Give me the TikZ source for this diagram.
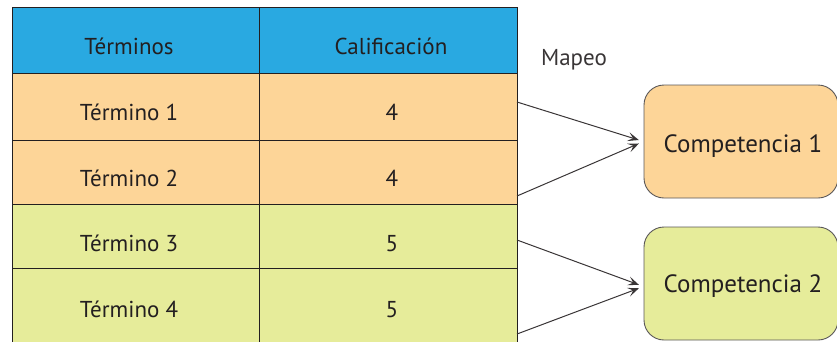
\documentclass[tikz,border=0pt]{standalone}
\usepackage{fontspec}
\setmainfont{PT Sans}
\usetikzlibrary{arrows.meta}
\definecolor{hdr}{HTML}{29A9E1}
\definecolor{org}{HTML}{FDD598}
\definecolor{grn}{HTML}{E6EC9A}
\definecolor{ink}{HTML}{231F20}
\begin{document}
\begin{tikzpicture}[x=1pt,y=-1pt,
  cell/.style={draw=ink, line width=0.9pt, inner sep=0pt},
  celltext/.style={anchor=base, inner sep=0pt, font=\fontsize{23}{26}\selectfont, text=ink},
  compbox/.style={draw=ink!75, line width=0.9pt, rounded corners=20pt, inner sep=0pt, minimum width=194pt, minimum height=113pt},
  comptext/.style={anchor=base, inner sep=0pt, font=\fontsize{25}{28}\selectfont, text=ink},
  maparrow/.style={draw=ink!90, line width=1pt, -{Stealth[length=11pt,width=9pt,inset=5pt]}}]
\useasboundingbox (0,0) rectangle (837,341);
% header cells
\node[cell, fill=hdr, minimum width=247pt, minimum height=66pt] (h1) at (135.5,40) {};
\node[cell, fill=hdr, minimum width=258pt, minimum height=66pt] (h2) at (388,40) {};
% body cells
\node[cell, fill=org, minimum width=247pt, minimum height=67pt] (t1) at (135.5,106.5) {};
\node[cell, fill=org, minimum width=258pt, minimum height=67pt] (c1) at (388,106.5) {};
\node[cell, fill=org, minimum width=247pt, minimum height=64pt] (t2) at (135.5,172) {};
\node[cell, fill=org, minimum width=258pt, minimum height=64pt] (c2) at (388,172) {};
\node[cell, fill=grn, minimum width=247pt, minimum height=64pt] (t3) at (135.5,236) {};
\node[cell, fill=grn, minimum width=258pt, minimum height=64pt] (c3) at (388,236) {};
\node[cell, fill=grn, minimum width=247pt, minimum height=80pt] (t4) at (135.5,308) {};
\node[cell, fill=grn, minimum width=258pt, minimum height=80pt] (c4) at (388,308) {};
% cell texts
\node[celltext] (h1t) at (129,54) {Términos};
\node[celltext] (h2t) at (391,54) {Calificación};
\node[celltext] (t1t) at (129,120) {Término 1};
\node[celltext] (c1t) at (392,120) {4};
\node[celltext] (t2t) at (129,186) {Término 2};
\node[celltext] (c2t) at (392,186) {4};
\node[celltext] (t3t) at (129,251) {Término 3};
\node[celltext] (c3t) at (392,251) {5};
\node[celltext] (t4t) at (129,317) {Término 4};
\node[celltext] (c4t) at (392,317) {5};
% label
\node[celltext, text=ink!90] (map) at (574,65) {Mapeo};
% competence boxes
\node[compbox, fill=org] (k1) at (741,141.5) {};
\node[compbox, fill=grn] (k2) at (741,283.5) {};
\node[comptext] (k1t) at (743,152) {Competencia 1};
\node[comptext] (k2t) at (743,292) {Competencia 2};
% arrow origins on the right edge of the table
\coordinate (a1) at (517,102);
\coordinate (a2) at (517,196);
\coordinate (a3) at (517,240);
\coordinate (a4) at (517,334);
\draw[maparrow, shorten >=5pt] (a1) -- (k1.west);
\draw[maparrow, shorten >=5pt] (a2) -- (k1.west);
\draw[maparrow, shorten >=5pt] (a3) -- ([yshift=-3pt]k2.west);
\draw[maparrow, shorten >=5pt] (a4) -- ([yshift=-3pt]k2.west);
\end{tikzpicture}
\end{document}
